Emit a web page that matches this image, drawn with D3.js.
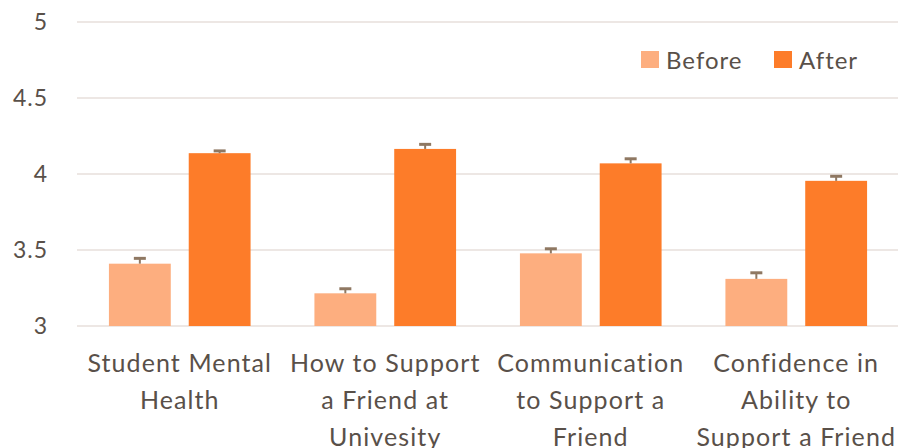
<!DOCTYPE html>
<html>
<head>
<meta charset="utf-8">
<script src="https://cdn.jsdelivr.net/npm/d3@7"></script>
<style>
  body { margin: 0; background: #fff; }
  text { font-family: Lato, "Open Sans", sans-serif; fill: #595049; }
</style>
</head>
<body>
<div id="chart"></div>
<script>
// 数据
const categories = [
  ["Student Mental", "Health"],
  ["How to Support", "a Friend at", "Univesity"],
  ["Communication", "to Support a", "Friend"],
  ["Confidence in", "Ability to", "Support a Friend"]
];
const seriesNames = ["Before", "After"];
const beforeValues = [3.41, 3.215, 3.478, 3.31];
const afterValues = [4.137, 4.165, 4.07, 3.955];
const beforeErrors = [0.035, 0.03, 0.03, 0.04];
const afterErrors = [0.015, 0.03, 0.03, 0.03];
const yTicks = [3, 3.5, 4, 4.5, 5];
const yTickLabels = ["3", "3.5", "4", "4.5", "5"];

const colors = { Before: "#fdae7f", After: "#fd7c29" };

const width = 898, height = 448;
const margin = { top: 22, right: -1, bottom: 122, left: 77 };

const svg = d3.select("#chart").append("svg")
  .attr("width", width)
  .attr("height", height);

const x = d3.scaleBand()
  .domain(d3.range(categories.length))
  .range([margin.left, width - margin.right])
  .paddingInner(0)
  .paddingOuter(0);

// 组内两根柱子：宽约62，间隔约18
const x1 = d3.scaleBand()
  .domain(seriesNames)
  .range([0, x.bandwidth()])
  .paddingInner(0.225)
  .paddingOuter(0.4);

const y = d3.scaleLinear()
  .domain([3, 5])
  .range([height - margin.bottom, margin.top]);

// 网格线
svg.append("g")
  .selectAll("line")
  .data(yTicks)
  .join("line")
  .attr("x1", margin.left)
  .attr("x2", width - margin.right)
  .attr("y1", d => y(d))
  .attr("y2", d => y(d))
  .attr("stroke", "#e7dfdb")
  .attr("stroke-width", 1.3);

// y轴标签
svg.append("g")
  .selectAll("text")
  .data(yTicks)
  .join("text")
  .attr("x", 48)
  .attr("y", d => y(d))
  .attr("dy", "0.36em")
  .attr("text-anchor", "end")
  .attr("font-size", "23px")
  .attr("letter-spacing", "1px")
  .text((d, i) => yTickLabels[i]);

// 柱子
const rows = categories.map((c, i) => [
  { key: "Before", value: beforeValues[i], err: beforeErrors[i], i },
  { key: "After", value: afterValues[i], err: afterErrors[i], i }
]);

const groups = svg.append("g")
  .selectAll("g")
  .data(rows)
  .join("g")
  .attr("transform", (d, i) => `translate(${x(i)},0)`);

groups.selectAll("rect")
  .data(d => d)
  .join("rect")
  .attr("x", d => x1(d.key))
  .attr("width", x1.bandwidth())
  .attr("y", d => y(d.value))
  .attr("height", d => y(3) - y(d.value))
  .attr("fill", d => colors[d.key]);

// 误差线（只画上半部分）
const errG = groups.selectAll("g.err")
  .data(d => d)
  .join("g")
  .attr("class", "err");

errG.append("line")
  .attr("x1", d => x1(d.key) + x1.bandwidth() / 2)
  .attr("x2", d => x1(d.key) + x1.bandwidth() / 2)
  .attr("y1", d => y(d.value))
  .attr("y2", d => y(d.value + d.err))
  .attr("stroke", "#8f7862")
  .attr("stroke-width", 2);

errG.append("line")
  .attr("x1", d => x1(d.key) + x1.bandwidth() / 2 - 6)
  .attr("x2", d => x1(d.key) + x1.bandwidth() / 2 + 6)
  .attr("y1", d => y(d.value + d.err))
  .attr("y2", d => y(d.value + d.err))
  .attr("stroke", "#8f7862")
  .attr("stroke-width", 3);

// x轴标签
const labels = svg.append("g")
  .selectAll("text")
  .data(categories)
  .join("text")
  .attr("text-anchor", "middle")
  .attr("font-size", "25px")
  .attr("letter-spacing", "1.1px")
  .attr("x", (d, i) => x(i) + x.bandwidth() / 2)
  .attr("y", 363);

labels.selectAll("tspan")
  .data(d => d)
  .join("tspan")
  .attr("x", function() { return d3.select(this.parentNode).attr("x"); })
  .attr("dy", (d, i) => i === 0 ? "0.36em" : "37px")
  .text(d => d);

// 图例
const legend = svg.append("g");
const legendItems = [
  { name: seriesNames[0], x: 641 },
  { name: seriesNames[1], x: 774 }
];
legend.selectAll("rect")
  .data(legendItems)
  .join("rect")
  .attr("x", d => d.x)
  .attr("y", 51)
  .attr("width", 18)
  .attr("height", 17)
  .attr("fill", d => colors[d.name]);

legend.selectAll("text")
  .data(legendItems)
  .join("text")
  .attr("x", d => d.x + 25)
  .attr("y", 60)
  .attr("dy", "0.36em")
  .attr("font-size", "24px")
  .attr("letter-spacing", "1px")
  .text(d => d.name);
</script>
</body>
</html>
